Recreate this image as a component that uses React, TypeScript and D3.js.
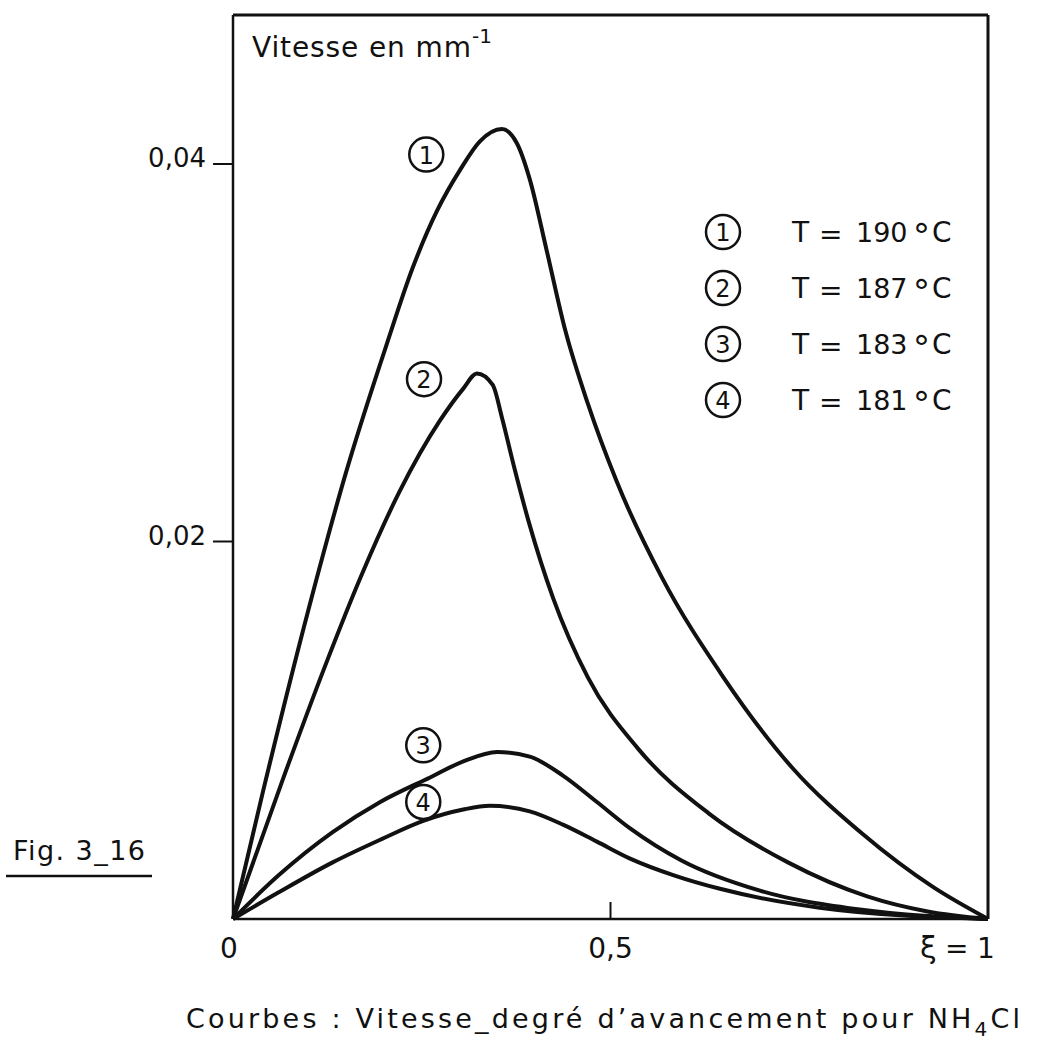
import React from "react";
import * as d3 from "d3";

// curves: [xi, vitesse]
const curve190 = [
  [0, 0], [0.04, 0.0068], [0.1, 0.0164], [0.15, 0.0237], [0.204, 0.0305],
  [0.238, 0.0345], [0.27, 0.0375], [0.301, 0.0397], [0.327, 0.0412],
  [0.356, 0.04185], [0.376, 0.0411], [0.393, 0.0392], [0.415, 0.0355],
  [0.44, 0.0312], [0.47, 0.0273], [0.508, 0.0232], [0.568, 0.0181],
  [0.648, 0.0129], [0.741, 0.008], [0.834, 0.0045], [0.927, 0.0017], [1, 0],
];
const curve187 = [
  [0, 0], [0.066, 0.0074], [0.12, 0.0132], [0.17, 0.0182], [0.22, 0.0226],
  [0.274, 0.0264], [0.305, 0.0281], [0.323, 0.0289], [0.344, 0.0283],
  [0.356, 0.0266], [0.372, 0.024], [0.392, 0.021], [0.424, 0.017],
  [0.47, 0.0128], [0.537, 0.009], [0.63, 0.0056], [0.735, 0.003],
  [0.84, 0.0012], [0.92, 0.0004], [1, 0],
];
const curve183 = [
  [0, 0], [0.06, 0.0023], [0.132, 0.0046], [0.195, 0.0062], [0.261, 0.0075],
  [0.305, 0.00835], [0.35, 0.00885], [0.393, 0.0086], [0.437, 0.0076],
  [0.482, 0.0062], [0.526, 0.0048], [0.594, 0.0031], [0.698, 0.0015],
  [0.83, 0.0005], [1, 0],
];
const curve181 = [
  [0, 0], [0.06, 0.0014], [0.132, 0.003], [0.195, 0.0042], [0.252, 0.0052],
  [0.305, 0.0058], [0.34, 0.006], [0.393, 0.0057], [0.437, 0.005],
  [0.482, 0.0041], [0.526, 0.0032], [0.585, 0.0023], [0.645, 0.0016],
  [0.777, 0.0006], [1, 0],
];
const curves = [curve190, curve187, curve183, curve181];

const curveLabels = ["1", "2", "3", "4"];
const curveLabelAt = [
  [0.256, 0.0405], [0.253, 0.0286], [0.252, 0.0092], [0.252, 0.0062],
];
const temps = ["190", "187", "183", "181"];

const yTicks = [0.02, 0.04];
const yTickLabels = ["0,02", "0,04"];
const xTicks = [0, 0.5];
const xTickLabels = ["0", "0,5"];

const FONT = "DejaVu Sans";

export default function App() {
  const x = d3.scaleLinear().domain([0, 1]).range([233, 988]);
  const y = d3.scaleLinear().domain([0, 0.04]).range([919, 164]);
  const line = d3
    .line<number[]>()
    .x((d) => x(d[0]))
    .y((d) => y(d[1]))
    .curve(d3.curveMonotoneX);

  return (
    <svg
      width={1054}
      height={1041}
      style={{ position: "absolute", left: 0, top: 0, background: "#fff" }}
      fontFamily={FONT}
    >
      {/* frame */}
      <line x1={233} y1={15} x2={988} y2={15} stroke="#111" strokeWidth={3} />
      <line x1={988} y1={15} x2={988} y2={919} stroke="#111" strokeWidth={3} />
      <line x1={233} y1={15} x2={233} y2={919} stroke="#111" strokeWidth={2.5} />
      <line x1={233} y1={919} x2={988} y2={919} stroke="#111" strokeWidth={2.5} />

      {/* y ticks */}
      {yTicks.map((t, i) => (
        <g key={t}>
          <line x1={213} x2={233} y1={y(t)} y2={y(t)} stroke="#111" strokeWidth={2} />
          <text x={206} y={y(t) + 3} textAnchor="end" fontSize={26} fill="#111">
            {yTickLabels[i]}
          </text>
        </g>
      ))}

      {/* x ticks */}
      <line x1={x(0.5)} x2={x(0.5)} y1={919} y2={902} stroke="#111" strokeWidth={2} />
      {xTicks.map((t, i) => (
        <text key={t} x={x(t) + (t === 0 ? -4 : 0)} y={958} textAnchor="middle" fontSize={28} fill="#111">
          {xTickLabels[i]}
        </text>
      ))}
      <text x={920} y={958} fontSize={30} fill="#111">ξ</text>
      <text x={945} y={958} fontSize={28} fill="#111">=</text>
      <text x={977} y={958} fontSize={28} fill="#111">1</text>

      {/* axis title */}
      <text x={252} y={57} fontSize={28} fill="#111" textLength={219} lengthAdjust="spacing">
        Vitesse en mm
      </text>
      <text x={472} y={43} fontSize={20} fill="#111">-1</text>

      {/* curves */}
      {curves.map((c, i) => (
        <path key={i} d={line(c) || ""} fill="none" stroke="#111" strokeWidth={4} strokeLinejoin="round" />
      ))}

      {/* curve labels */}
      {curveLabelAt.map((p, i) => (
        <g key={i} transform={`translate(${x(p[0])},${y(p[1])})`}>
          <circle r={17} fill="#fff" stroke="#111" strokeWidth={2.5} />
          <text y={9} textAnchor="middle" fontSize={24} fill="#111">{curveLabels[i]}</text>
        </g>
      ))}

      {/* legend */}
      {temps.map((t, i) => {
        const cy = 232 + i * 56;
        return (
          <g key={t}>
            <circle cx={723} cy={cy} r={17} fill="#fff" stroke="#111" strokeWidth={2.5} />
            <text x={723} y={cy + 9} textAnchor="middle" fontSize={24} fill="#111">{curveLabels[i]}</text>
            <text x={792} y={cy + 10} fontSize={28} fill="#111">T</text>
            <text x={819} y={cy + 12} fontSize={28} fill="#111">=</text>
            <text x={856} y={cy + 10} fontSize={27} fill="#111">{t}</text>
            <text x={913} y={cy + 16} fontSize={34} fill="#111">°</text>
            <text x={932} y={cy + 10} fontSize={28} fill="#111">C</text>
          </g>
        );
      })}

      {/* figure number */}
      <text x={13} y={860} fontSize={27} fill="#111" textLength={132} lengthAdjust="spacing">
        Fig. 3_16
      </text>
      <line x1={6} x2={152} y1={876} y2={876} stroke="#111" strokeWidth={2.5} />

      {/* caption */}
      <text x={186} y={1028} fontSize={27} fill="#111" textLength={834} lengthAdjust="spacing">
        Courbes : Vitesse_degré d’avancement pour NH
        <tspan dy={8} fontSize={20}>4</tspan>
        <tspan dy={-8}>Cl</tspan>
      </text>
    </svg>
  );
}
